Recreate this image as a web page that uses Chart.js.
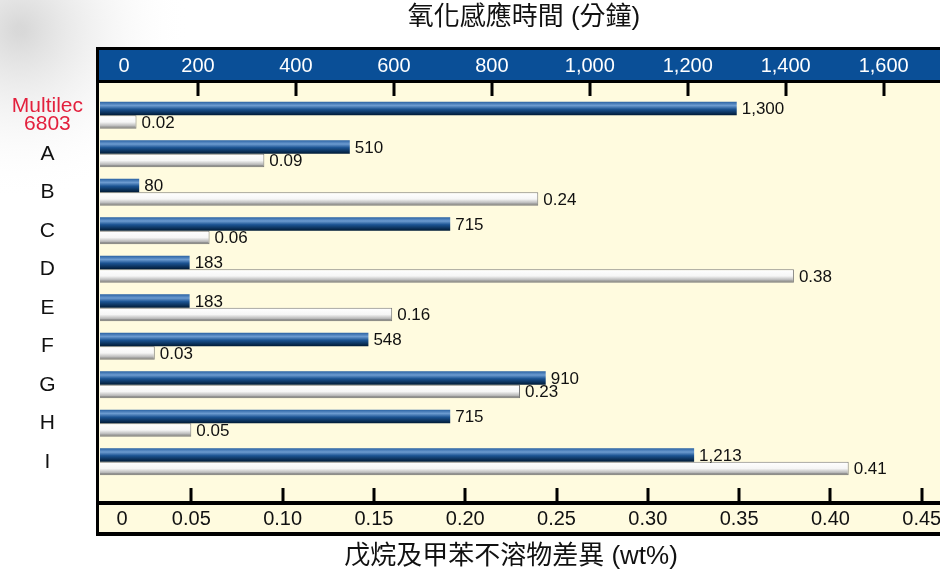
<!DOCTYPE html>
<html>
<head>
<meta charset="utf-8">
<script src="https://cdn.jsdelivr.net/npm/chart.js@4.4.1/dist/chart.umd.min.js"></script>
<style>
  html, body { margin: 0; padding: 0; background: #fff; }
  #wrap { width: 940px; height: 577px; }
</style>
</head>
<body>
<div id="wrap"><canvas id="chart" width="940" height="577"></canvas></div>
<script>
// ===================================
// Data
// ===================================
const categories = [["Multilec", "6803"], "A", "B", "C", "D", "E", "F", "G", "H", "I"];
const inductionTime = [1300, 510, 80, 715, 183, 183, 548, 910, 715, 1213]; // minutes
const insolubleDiff = [0.02, 0.09, 0.24, 0.06, 0.38, 0.16, 0.03, 0.23, 0.05, 0.41]; // wt%
const topTicks = [0, 200, 400, 600, 800, 1000, 1200, 1400, 1600];
const topTickLabels = ["0", "200", "400", "600", "800", "1,000", "1,200", "1,400", "1,600"];
const bottomTicks = [0, 0.05, 0.1, 0.15, 0.2, 0.25, 0.3, 0.35, 0.4, 0.45];
const bottomTickLabels = ["0", "0.05", "0.10", "0.15", "0.20", "0.25", "0.30", "0.35", "0.40", "0.45"];

const topTitle = "氧化感應時間 (分鐘)";
const bottomTitle = "戊烷及甲苯不溶物差異 (wt%)";

const FONT = '"Liberation Sans", Arial, "Noto Sans CJK TC", sans-serif';
const CAT_PCT = 0.7;

// ===================================
// Bar gradients
// ===================================
const blueStops = [[0, "#2a62a3"], [0.28, "#6c9bd0"], [0.55, "#1b5392"], [1, "#001a35"]];
const greyStops = [[0, "#ffffff"], [0.5, "#f6f6f6"], [0.8, "#b8b8b8"], [1, "#505050"]];

function barGradient(ctx, stops, side) {
  const chart = ctx.chart;
  const y = chart.scales.y;
  if (ctx.type !== "data" || !y) return stops[2][1];
  const slot = y.getPixelForValue(1) - y.getPixelForValue(0);
  const c = y.getPixelForValue(ctx.dataIndex);
  if (!Number.isFinite(slot) || !Number.isFinite(c) || slot <= 0) return stops[2][1];
  const h = (slot * CAT_PCT) / 2;
  const top = side < 0 ? c - h : c;
  const g = chart.ctx.createLinearGradient(0, top, 0, top + h);
  stops.forEach((s) => g.addColorStop(s[0], s[1]));
  return g;
}

// ===================================
// Frame, bands and axis labels
// ===================================
const framePlugin = {
  id: "frame",
  beforeDraw(chart) {
    const { ctx, width } = chart;
    const ca = chart.chartArea;
    ctx.save();
    ctx.fillStyle = "#fff";
    ctx.fillRect(0, 0, width, chart.height);

    // soft grey smudge in the corner
    const rg = ctx.createRadialGradient(20, 30, 5, 20, 30, 170);
    rg.addColorStop(0, "rgba(185,185,185,0.55)");
    rg.addColorStop(1, "rgba(255,255,255,0)");
    ctx.fillStyle = rg;
    ctx.fillRect(0, 0, 220, 220);

    const left = ca.left - 4;
    // outer black frame
    ctx.fillStyle = "#000";
    ctx.fillRect(left, 47, width - left, 489);
    // blue band
    ctx.fillStyle = "#0a4f97";
    ctx.fillRect(left + 3, 50, width, 30);
    // cream plot area
    ctx.fillStyle = "#fffbdf";
    ctx.fillRect(left + 3, 83, width, 418);
    // cream bottom band
    ctx.fillRect(left + 3, 505, width, 27);

    // titles
    ctx.fillStyle = "#111";
    ctx.font = "26px " + FONT;
    ctx.textAlign = "center";
    ctx.textBaseline = "middle";
    ctx.fillText(topTitle, 524, 18);
    ctx.fillText(bottomTitle, 511, 557);
    ctx.restore();
  },
  afterDraw(chart) {
    const { ctx } = chart;
    const xTop = chart.scales.x;
    const xBot = chart.scales.x2;
    ctx.save();
    ctx.fillStyle = "#000";
    topTicks.forEach((v) => {
      if (v === 0) return;
      const px = Math.round(xTop.getPixelForValue(v));
      ctx.fillRect(px - 1.5, 83, 3, 13);
    });
    bottomTicks.forEach((v) => {
      if (v === 0) return;
      const px = Math.round(xBot.getPixelForValue(v));
      ctx.fillRect(px - 1.5, 488, 3, 13);
    });

    ctx.font = "20px " + FONT;
    ctx.textAlign = "center";
    ctx.textBaseline = "middle";
    ctx.fillStyle = "#fff";
    topTicks.forEach((v, i) => {
      const px = xTop.getPixelForValue(v) + (v === 0 ? 24 : 0);
      ctx.fillText(topTickLabels[i], px, 66);
    });
    ctx.fillStyle = "#111";
    bottomTicks.forEach((v, i) => {
      const px = xBot.getPixelForValue(v) + (v === 0 ? 22 : 0);
      ctx.fillText(bottomTickLabels[i], px, 519);
    });
    ctx.restore();
  },
};

// value labels at the end of each bar
const valueLabels = {
  id: "valueLabels",
  afterDatasetsDraw(chart) {
    const { ctx } = chart;
    ctx.save();
    ctx.font = "17px " + FONT;
    ctx.fillStyle = "#111";
    ctx.textAlign = "left";
    ctx.textBaseline = "middle";
    chart.data.datasets.forEach((ds, di) => {
      const meta = chart.getDatasetMeta(di);
      meta.data.forEach((bar, i) => {
        const v = ds.data[i];
        const text = di === 0 ? v.toLocaleString("en-US") : v.toFixed(2);
        ctx.fillText(text, bar.x + 5, bar.y + 1);
      });
    });
    ctx.restore();
  },
};

// ===================================
// Chart
// ===================================
new Chart(document.getElementById("chart").getContext("2d"), {
  type: "bar",
  data: {
    labels: categories,
    datasets: [
      {
        label: topTitle,
        data: inductionTime,
        xAxisID: "x",
        backgroundColor: (c) => barGradient(c, blueStops, -1),
        borderWidth: 0,
      },
      {
        label: bottomTitle,
        data: insolubleDiff,
        xAxisID: "x2",
        backgroundColor: (c) => barGradient(c, greyStops, 1),
        borderColor: "#7a7a7a",
        borderWidth: 1,
      },
    ],
  },
  options: {
    indexAxis: "y",
    responsive: false,
    animation: false,
    layout: { padding: { top: 96, bottom: 96, left: 0, right: 0 } },
    datasets: {
      bar: { categoryPercentage: CAT_PCT, barPercentage: 1.0 },
    },
    plugins: {
      legend: { display: false },
      tooltip: { enabled: false },
    },
    scales: {
      x: { display: false, position: "top", min: 0, max: 1715 },
      x2: { display: false, position: "bottom", min: 0, max: 0.46 },
      y: {
        afterFit: (s) => { s.width = 100; },
        grid: { display: false, drawTicks: false },
        border: { display: false },
        ticks: {
          autoSkip: false,
          padding: 17,
          crossAlign: "center",
          color: (c) => (c.index === 0 ? "#e3203d" : "#111"),
          font: { size: 21, family: FONT, lineHeight: 0.85 },
        },
      },
    },
  },
  plugins: [framePlugin, valueLabels],
});
</script>
</body>
</html>
